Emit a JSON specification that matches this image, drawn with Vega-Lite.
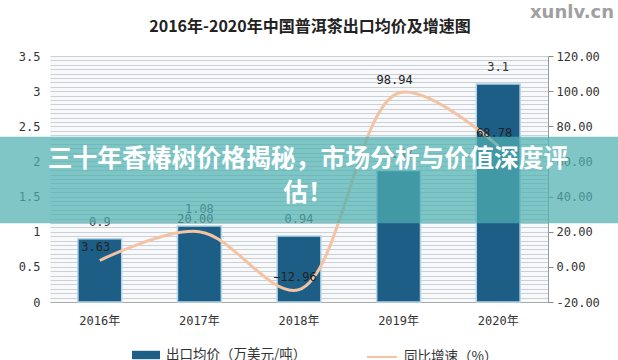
{
  "$schema": "https://vega.github.io/schema/vega-lite/v6.json",
  "autosize": "none",
  "width": 498,
  "height": 246,
  "padding": {"left": 50, "top": 56, "right": 70, "bottom": 58},
  "background": "white",
  "title": {
    "text": "2016年-2020年中国普洱茶出口均价及增速图",
    "font": "Noto Sans CJK SC",
    "fontSize": 16,
    "fontWeight": "bold",
    "color": "#222222",
    "anchor": "middle",
    "frame": "group",
    "dx": 11,
    "offset": -31
  },
  "config": {
    "view": {"stroke": null, "fill": "#f8f9fb"}
  },
  "data": {
    "values": [
      {"year": "2016年", "price": 0.9, "growth": 3.63},
      {"year": "2017年", "price": 1.08, "growth": 20.0},
      {"year": "2018年", "price": 0.94, "growth": -12.96},
      {"year": "2019年", "price": 1.87, "growth": 98.94},
      {"year": "2020年", "price": 3.1, "growth": 68.78}
    ]
  },
  "layer": [
    {
      "encoding": {
        "x": {
          "field": "year",
          "type": "nominal",
          "sort": null,
          "scale": {"paddingInner": 0.56, "paddingOuter": 0.28},
          "axis": {
            "title": null,
            "labelAngle": 0,
            "labelFont": "DejaVu Sans Mono, Noto Sans CJK SC",
            "labelFontSize": 12,
            "labelColor": "#333333",
            "labelPadding": 13,
            "ticks": false,
            "domain": true,
            "domainColor": "#aaaaaa",
            "grid": false
          }
        }
      },
      "layer": [
        {
          "encoding": {
            "y": {
              "field": "price",
              "type": "quantitative",
              "scale": {"domain": [0, 3.5], "nice": false},
              "axis": {
                "orient": "left",
                "title": null,
                "values": [0, 0.5, 1, 1.5, 2, 2.5, 3, 3.5],
                "format": "~g",
                "grid": false,
                "ticks": false,
                "domain": false,
                "labelFont": "DejaVu Sans Mono",
                "labelFontSize": 12,
                "labelColor": "#333333",
                "labelPadding": 10
              }
            }
          },
          "layer": [
            {
              "mark": {"type": "bar", "stroke": "#b4d5e8", "strokeWidth": 1.5},
              "encoding": {
                "fill": {
                  "datum": "出口均价（万美元/吨）",
                  "type": "nominal",
                  "scale": {"range": ["#1c5e86"]},
                  "legend": {
                    "orient": "none",
                    "legendX": 82,
                    "legendY": 285,
                    "title": null,
                    "padding": 0,
                    "labelFont": "Noto Sans CJK SC",
                    "labelFontSize": 13.5,
                    "labelColor": "#333333",
                    "labelOffset": 6,
                    "labelLimit": 300,
                    "symbolType": "M-1,-0.3L1,-0.3L1,0.3L-1,0.3Z",
                    "symbolSize": 784,
                    "symbolStrokeWidth": 0
                  }
                }
              }
            },
            {
              "mark": {"type": "text", "baseline": "alphabetic", "dy": -13, "font": "DejaVu Sans Mono", "fontSize": 12, "color": "#333333"},
              "encoding": {"text": {"field": "price", "type": "nominal"}}
            }
          ]
        },
        {
          "encoding": {
            "y": {
              "field": "growth",
              "type": "quantitative",
              "scale": {"domain": [-20, 120], "nice": false, "zero": false},
              "axis": {
                "orient": "right",
                "title": null,
                "values": [-20, -17.5, -15, -12.5, -10, -7.5, -5, -2.5, 0, 2.5, 5, 7.5, 10, 12.5, 15, 17.5, 20, 22.5, 25, 27.5, 30, 32.5, 35, 37.5, 40, 42.5, 45, 47.5, 50, 52.5, 55, 57.5, 60, 62.5, 65, 67.5, 70, 72.5, 75, 77.5, 80, 82.5, 85, 87.5, 90, 92.5, 95, 97.5, 100, 102.5, 105, 107.5, 110, 112.5, 115, 117.5, 120],
                "labelExpr": "datum.value % 20 === 0 ? replace(format(datum.value, '.2f'), '−', '-') : ''",
                "labelOverlap": false,
                "grid": true,
                "gridColor": "#cbd0d6",
                "gridWidth": 1,
                "ticks": true,
                "tickSize": 5,
                "tickColor": "#888888",
                "tickOpacity": {"condition": {"test": "datum.value % 20 === 0", "value": 1}, "value": 0},
                "domain": true,
                "domainColor": "#999999",
                "labelFont": "DejaVu Sans Mono",
                "labelFontSize": 12,
                "labelColor": "#333333",
                "labelPadding": 3
              }
            }
          },
          "layer": [
            {
              "mark": {"type": "line", "interpolate": "catmull-rom", "strokeWidth": 3},
              "encoding": {
                "stroke": {
                  "datum": "同比增速（%）",
                  "type": "nominal",
                  "scale": {"range": ["#f3c3a3"]},
                  "legend": {
                    "orient": "none",
                    "legendX": 316,
                    "legendY": 285,
                    "title": null,
                    "padding": 0,
                    "labelFont": "Noto Sans CJK SC",
                    "labelFontSize": 13.5,
                    "labelColor": "#333333",
                    "labelOffset": 6,
                    "labelLimit": 300,
                    "symbolType": "stroke",
                    "symbolSize": 900,
                    "symbolStrokeWidth": 2
                  }
                }
              }
            },
            {
              "mark": {"type": "text", "baseline": "alphabetic", "dy": -9, "dx": -4, "font": "DejaVu Sans Mono", "fontSize": 12, "color": "#222222"},
              "encoding": {"text": {"field": "growth", "type": "quantitative", "format": ".2f"}}
            }
          ]
        }
      ],
      "resolve": {"scale": {"y": "independent"}}
    },
    {
      "data": {"values": [{}]},
      "mark": {"type": "rect", "fill": "#4fb0b2", "opacity": 0.72},
      "encoding": {
        "x": {"datum": 0, "type": "quantitative", "scale": {"domain": [0.0809, 0.8867], "nice": false, "zero": false}, "axis": null},
        "x2": {"datum": 1},
        "y": {"datum": 2.35, "type": "quantitative", "scale": {"domain": [0, 3.5], "nice": false}, "axis": null},
        "y2": {"datum": 1.12}
      }
    },
    {
      "data": {"values": [{}]},
      "mark": {"type": "text", "font": "Noto Sans CJK SC", "fontSize": 24.8, "fontWeight": "bold", "color": "white", "align": "center", "baseline": "middle", "lineHeight": 34},
      "encoding": {
        "x": {"datum": 0.4984, "type": "quantitative", "scale": {"domain": [0.0809, 0.8867], "nice": false, "zero": false}, "axis": null},
        "y": {"datum": 2.02, "type": "quantitative", "scale": {"domain": [0, 3.5], "nice": false}, "axis": null},
        "text": {"value": ["三十年香椿树价格揭秘，市场分析与价值深度评", "估！"]}
      }
    },
    {
      "data": {"values": [{}]},
      "mark": {"type": "text", "font": "DejaVu Sans", "fontSize": 18, "fontWeight": "bold", "color": "#a0a0a0", "align": "center", "baseline": "middle"},
      "encoding": {
        "x": {"datum": 0.9255, "type": "quantitative", "scale": {"domain": [0.0809, 0.8867], "nice": false, "zero": false}, "axis": null},
        "y": {"datum": 4.11, "type": "quantitative", "scale": {"domain": [0, 3.5], "nice": false}, "axis": null},
        "text": {"value": "xunlv.cn"}
      }
    }
  ],
  "resolve": {"scale": {"x": "independent", "y": "independent"}}
}
